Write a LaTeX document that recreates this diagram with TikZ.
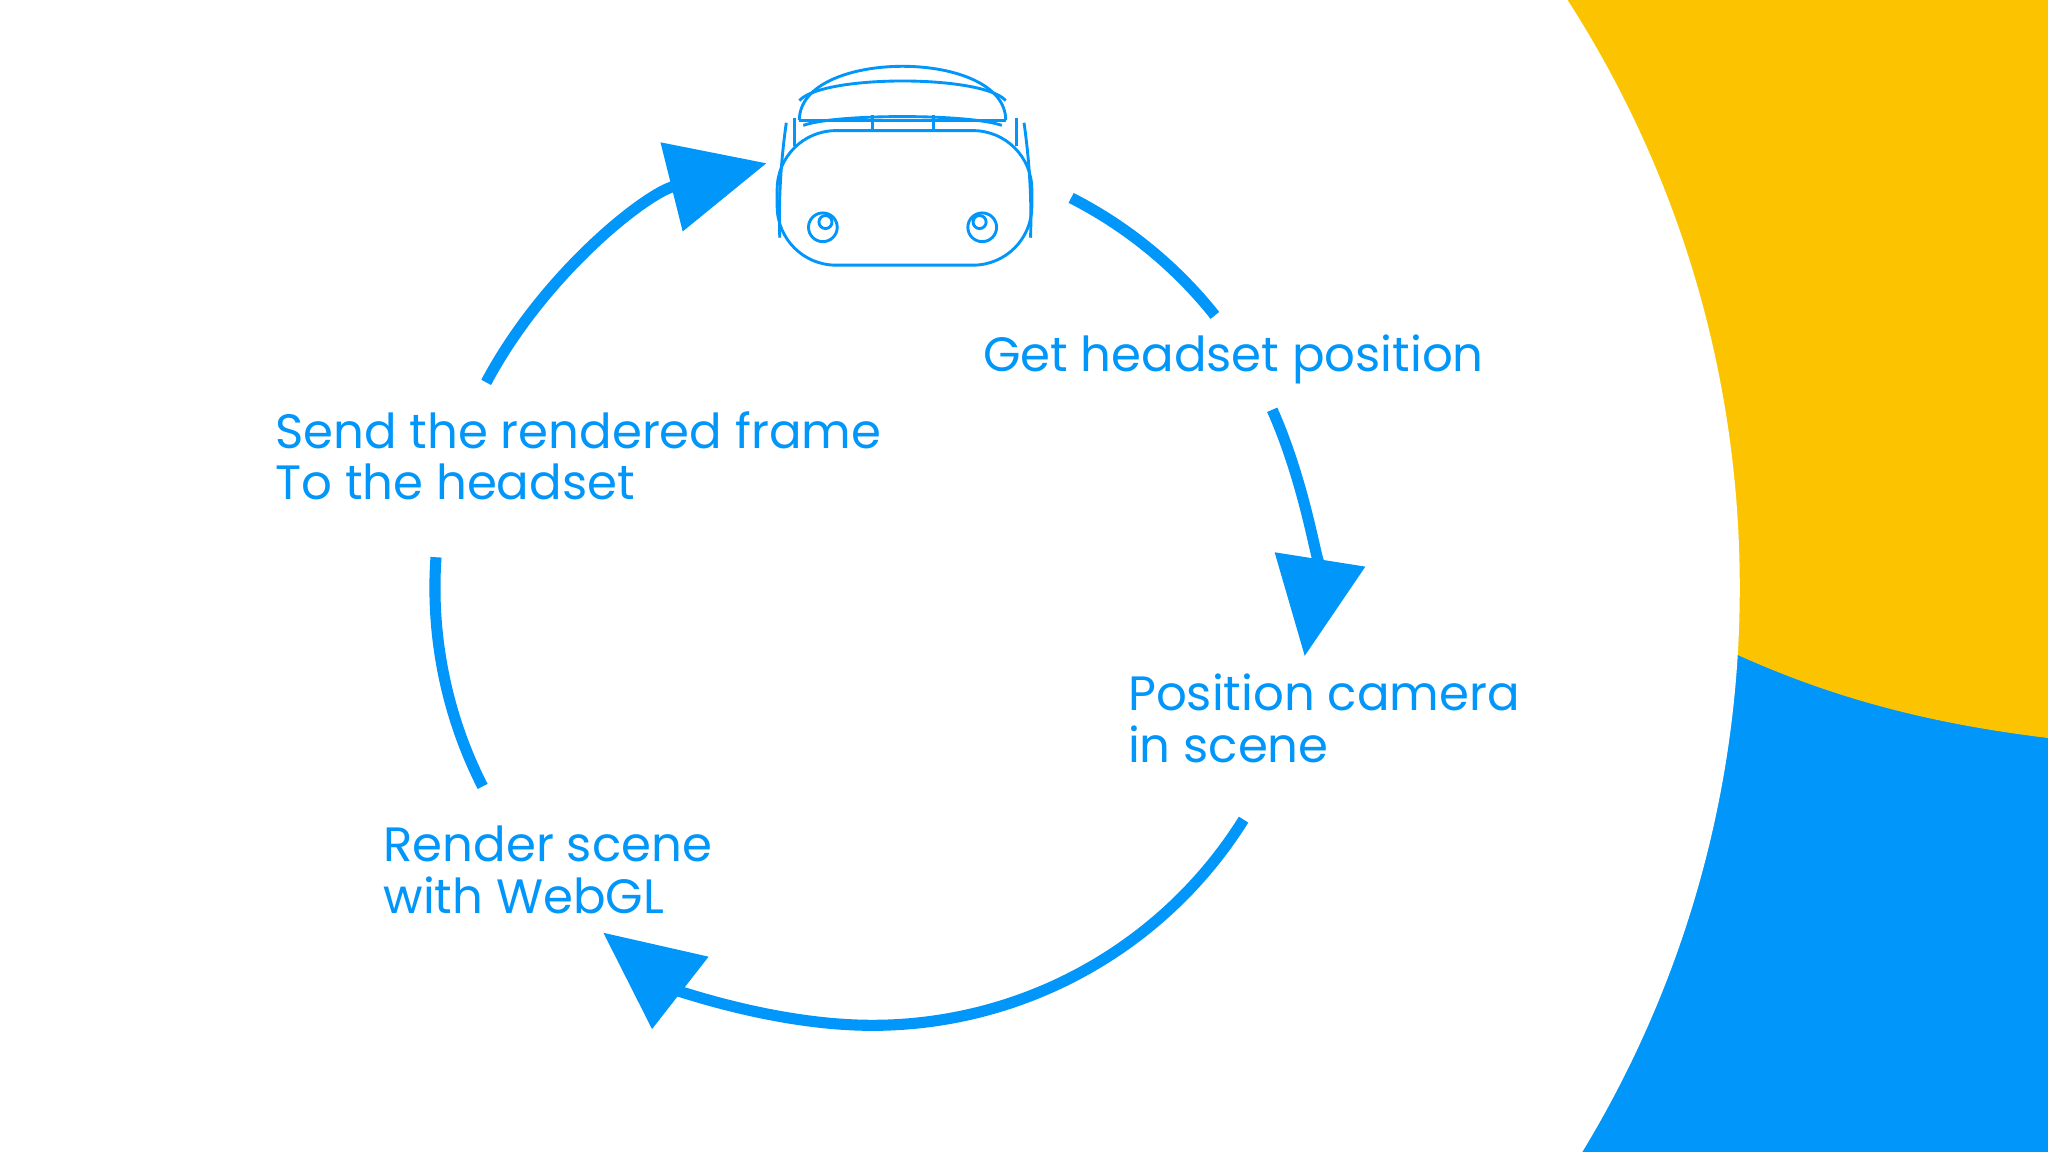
\documentclass[tikz,border=0pt]{standalone}
\usepackage{fontspec}
\setmainfont{Poppins}
\usetikzlibrary{arrows.meta}
\definecolor{vrblue}{HTML}{0096FA}
\definecolor{vryellow}{HTML}{FCC400}
\begin{document}
\begin{tikzpicture}[
  cyc/.style={draw=vrblue,line width=0.085cm},
  cycarr/.style={cyc,-{Triangle[length=0.75cm,width=0.68cm]}},
  lbl/.style={anchor=west,align=left,text=vrblue,font=\fontsize{10.5}{11.2}\selectfont,inner sep=0pt},
  hs/.style={draw=vrblue,line width=0.022cm}]
\useasboundingbox (0,0) rectangle (15.68,8.82);
% background
\fill[vrblue] (11,0) rectangle (15.68,8.82);
\fill[vryellow] (11.5,8.82) -- (15.68,8.82) -- (15.68,3.17) .. controls (14.6,3.3) and (13.8,3.55) .. (13.0,3.95) -- (11.5,4.5) -- cycle;
\fill[white] (4.99,4.32) circle[radius=8.33];
\coordinate (c) at (6.68,4.32);
% cycle arcs
\draw[cycarr] ([shift={(152:3.35)}]c) arc[start angle=152,end angle=104,radius=3.35];
\draw[cyc] ([shift={(63:3.35)}]c) arc[start angle=63,end angle=38.5,radius=3.35];
\draw[cycarr] ([shift={(24:3.35)}]c) arc[start angle=24,end angle=-9,radius=3.35];
\draw[cycarr] ([shift={(-32:3.35)}]c) arc[start angle=-32,end angle=-128,radius=3.35];
\draw[cyc] ([shift={(176:3.35)}]c) arc[start angle=176,end angle=207,radius=3.35];
% labels
\node[lbl] (get) at (7.52,6.07) {Get headset position};
\node[lbl] (pos) at (8.63,3.32) {Position camera\\in scene};
\node[lbl] (ren) at (2.93,2.16) {Render scene\\with WebGL};
\node[lbl] (snd) at (2.10,5.33) {Send the rendered frame\\To the headset};
% headset
\draw[hs,rounded corners=0.45cm] (5.95,7.82) -- (5.95,6.79) -- (7.90,6.79) -- (7.90,7.82) -- cycle;
\draw[hs] (6.12,7.90) .. controls (6.12,8.45) and (7.70,8.45) .. (7.70,7.90);
\draw[hs] (6.12,7.90) -- (7.70,7.90);
\draw[hs] (6.12,8.05) .. controls (6.30,8.25) and (7.52,8.25) .. (7.70,8.05);
\draw[hs] (6.15,7.86) .. controls (6.40,7.95) and (7.42,7.95) .. (7.67,7.86);
\draw[hs] (6.68,7.82) -- (6.68,7.94);
\draw[hs] (7.15,7.82) -- (7.15,7.94);
\draw[hs] (6.02,7.88) .. controls (5.98,7.60) and (5.96,7.30) .. (5.97,7.00);
\draw[hs] (6.08,7.92) -- (6.08,7.70);
\draw[hs] (7.84,7.88) .. controls (7.88,7.60) and (7.90,7.30) .. (7.89,7.00);
\draw[hs] (7.78,7.92) -- (7.78,7.70);
\draw[hs] (6.30,7.08) circle[radius=0.11];
\draw[hs] (6.32,7.12) circle[radius=0.05];
\draw[hs] (7.52,7.08) circle[radius=0.11];
\draw[hs] (7.50,7.12) circle[radius=0.05];
\end{tikzpicture}
\end{document}
